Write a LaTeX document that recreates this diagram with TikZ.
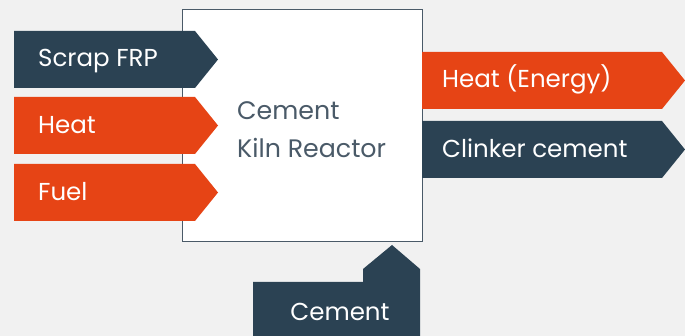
\documentclass[tikz,border=0pt]{standalone}
\usepackage{fontspec}
\setmainfont{Poppins}
\definecolor{bgcol}{HTML}{F1F1F1}
\definecolor{flame}{HTML}{E64415}
\definecolor{navy}{HTML}{2B4253}
\definecolor{slate}{HTML}{4A5A68}
\tikzset{
  flowlabel/.style={text=white, inner sep=0pt, anchor=base west, font=\fontsize{24.5}{27}\selectfont},
  kilnlabel/.style={text=slate, inner sep=0pt, anchor=base west, font=\fontsize{25.3}{28}\selectfont},
  kilnbox/.style={draw=slate, line width=0.9pt, fill=white},
}
\begin{document}
\begin{tikzpicture}[x=1pt,y=-1pt]
  % canvas
  \fill[bgcol] (0,0) rectangle (685,336);
  \useasboundingbox (0,0) rectangle (685,336);

  % reactor box
  \draw[kilnbox] (182,9) rectangle (422,241);
  \node[kilnlabel] (kilnA) at (237,120) {Cement};
  \node[kilnlabel] (kilnB) at (237,158) {Kiln Reactor};

  % inputs (left)
  \fill[navy]  (14,31)  -- (195,31)  -- (218,59.5)  -- (195,88)  -- (14,88)  -- cycle;
  \fill[flame] (14,97)  -- (195,97)  -- (218,125.5) -- (195,154) -- (14,154) -- cycle;
  \fill[flame] (14,164) -- (195,164) -- (218,192.5) -- (195,221) -- (14,221) -- cycle;
  \node[flowlabel] (scrap) at (38,67) {Scrap FRP};
  \node[flowlabel] (heatin) at (38,134) {Heat};
  \node[flowlabel] (fuel) at (38,201) {Fuel};

  % outputs (right)
  \fill[flame] (422,52)  -- (662,52)  -- (685,80.5)  -- (662,109) -- (422,109) -- cycle;
  \fill[navy]  (422,121) -- (662,121) -- (685,149.5) -- (662,178) -- (422,178) -- cycle;
  \node[flowlabel] (heatout) at (442,88) {Heat (Energy)};
  \node[flowlabel] (clinker) at (442,158) {Clinker cement};

  % cement feed (bottom)
  \fill[navy] (253,336) -- (253,282) -- (363,282) -- (363,269) -- (392,245)
              -- (420,269) -- (420,336) -- cycle;
  \node[flowlabel, anchor=base] (cementin) at (340,321) {Cement};
\end{tikzpicture}
\end{document}
